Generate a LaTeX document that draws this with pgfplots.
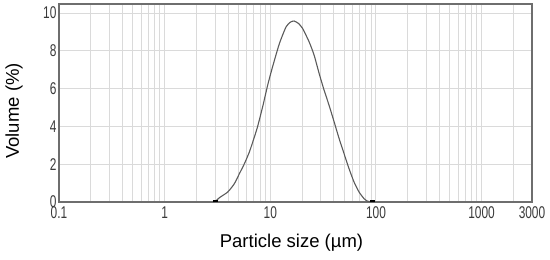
\documentclass[border=0pt]{standalone}
\usepackage{fontspec}
\setmainfont{Liberation Sans}
\newfontfamily\narrowfont[FakeStretch=0.7]{Liberation Sans}
\usepackage{pgfplots}
\pgfplotsset{compat=1.18}
\definecolor{gridc}{HTML}{DADADA}
\definecolor{axc}{HTML}{6E6E6E}
\definecolor{curvec}{HTML}{5A5A5A}
\definecolor{tickc}{HTML}{3A3A3A}
\begin{document}
\begin{tikzpicture}
\useasboundingbox (-59bp,-58bp) rectangle (491bp,202bp);
\begin{axis}[
  scale only axis,
  width=473bp, height=198bp,
  xmode=log,
  xmin=0.1, xmax=3000,
  ymin=0, ymax=10.48,
  xtick={0.1,1,10,100,1000,3000},
  xticklabels={0.1,1,10,100,1000,3000},
  minor xtick={0.2,0.3,0.4,0.5,0.6,0.7,0.8,0.9,2,3,4,5,6,7,8,9,20,30,40,50,60,70,80,90,200,300,400,500,600,700,800,900,2000},
  ytick={0,2,4,6,8,10},
  yticklabels={0,2,4,6,8,10},
  xmajorgrids, xminorgrids, ymajorgrids,
  major grid style={gridc, line width=1bp},
  minor grid style={gridc, line width=1bp},
  major tick length=0pt, minor tick length=0pt,
  axis line style={axc, line width=1.5bp},
  tick label style={font=\narrowfont\fontsize{17bp}{17bp}\selectfont, text=tickc},
  xticklabel style={yshift=-1bp},
  yticklabel style={xshift=1bp},
  xlabel={Particle size (µm)},
  ylabel={Volume (\%)},
  label style={font=\fontsize{18.5bp}{20bp}\selectfont},
  xlabel style={at={(axis description cs:0.5,0)}, anchor=center, yshift=-41bp, xshift=-4bp},
  ylabel style={at={(axis description cs:0,0.46)}, anchor=center, yshift=45bp},
  clip=false,
]
\addplot[curvec, line width=1.1bp, smooth, tension=0.35] coordinates {
(2.86,0) (3.05,0.05) (3.30,0.23) (3.96,0.53) (4.57,0.97) (5.10,1.50)
(5.69,2.03) (6.34,2.65) (7.07,3.44) (7.59,4.00) (8.46,5.03) (9.44,6.18)
(10.5,7.15) (12.2,8.39) (14.1,9.27) (15.5,9.52) (16.8,9.58) (18.5,9.45)
(20.2,9.19) (23.3,8.48) (26.0,7.77) (29.0,6.80) (32.3,5.92) (36.0,5.12)
(40.2,4.24) (44.8,3.36) (49.9,2.56) (55.6,1.77) (62.0,1.06) (69.2,0.53)
(77.1,0.18) (82.8,0.05) (90,0.01) (97,0)
};
\addplot[black, line width=2bp] coordinates {(2.86,0.03) (3.2,0.03)};
\addplot[black, line width=2bp] coordinates {(88,0.03) (97,0.03)};
\end{axis}
\end{tikzpicture}
\end{document}
